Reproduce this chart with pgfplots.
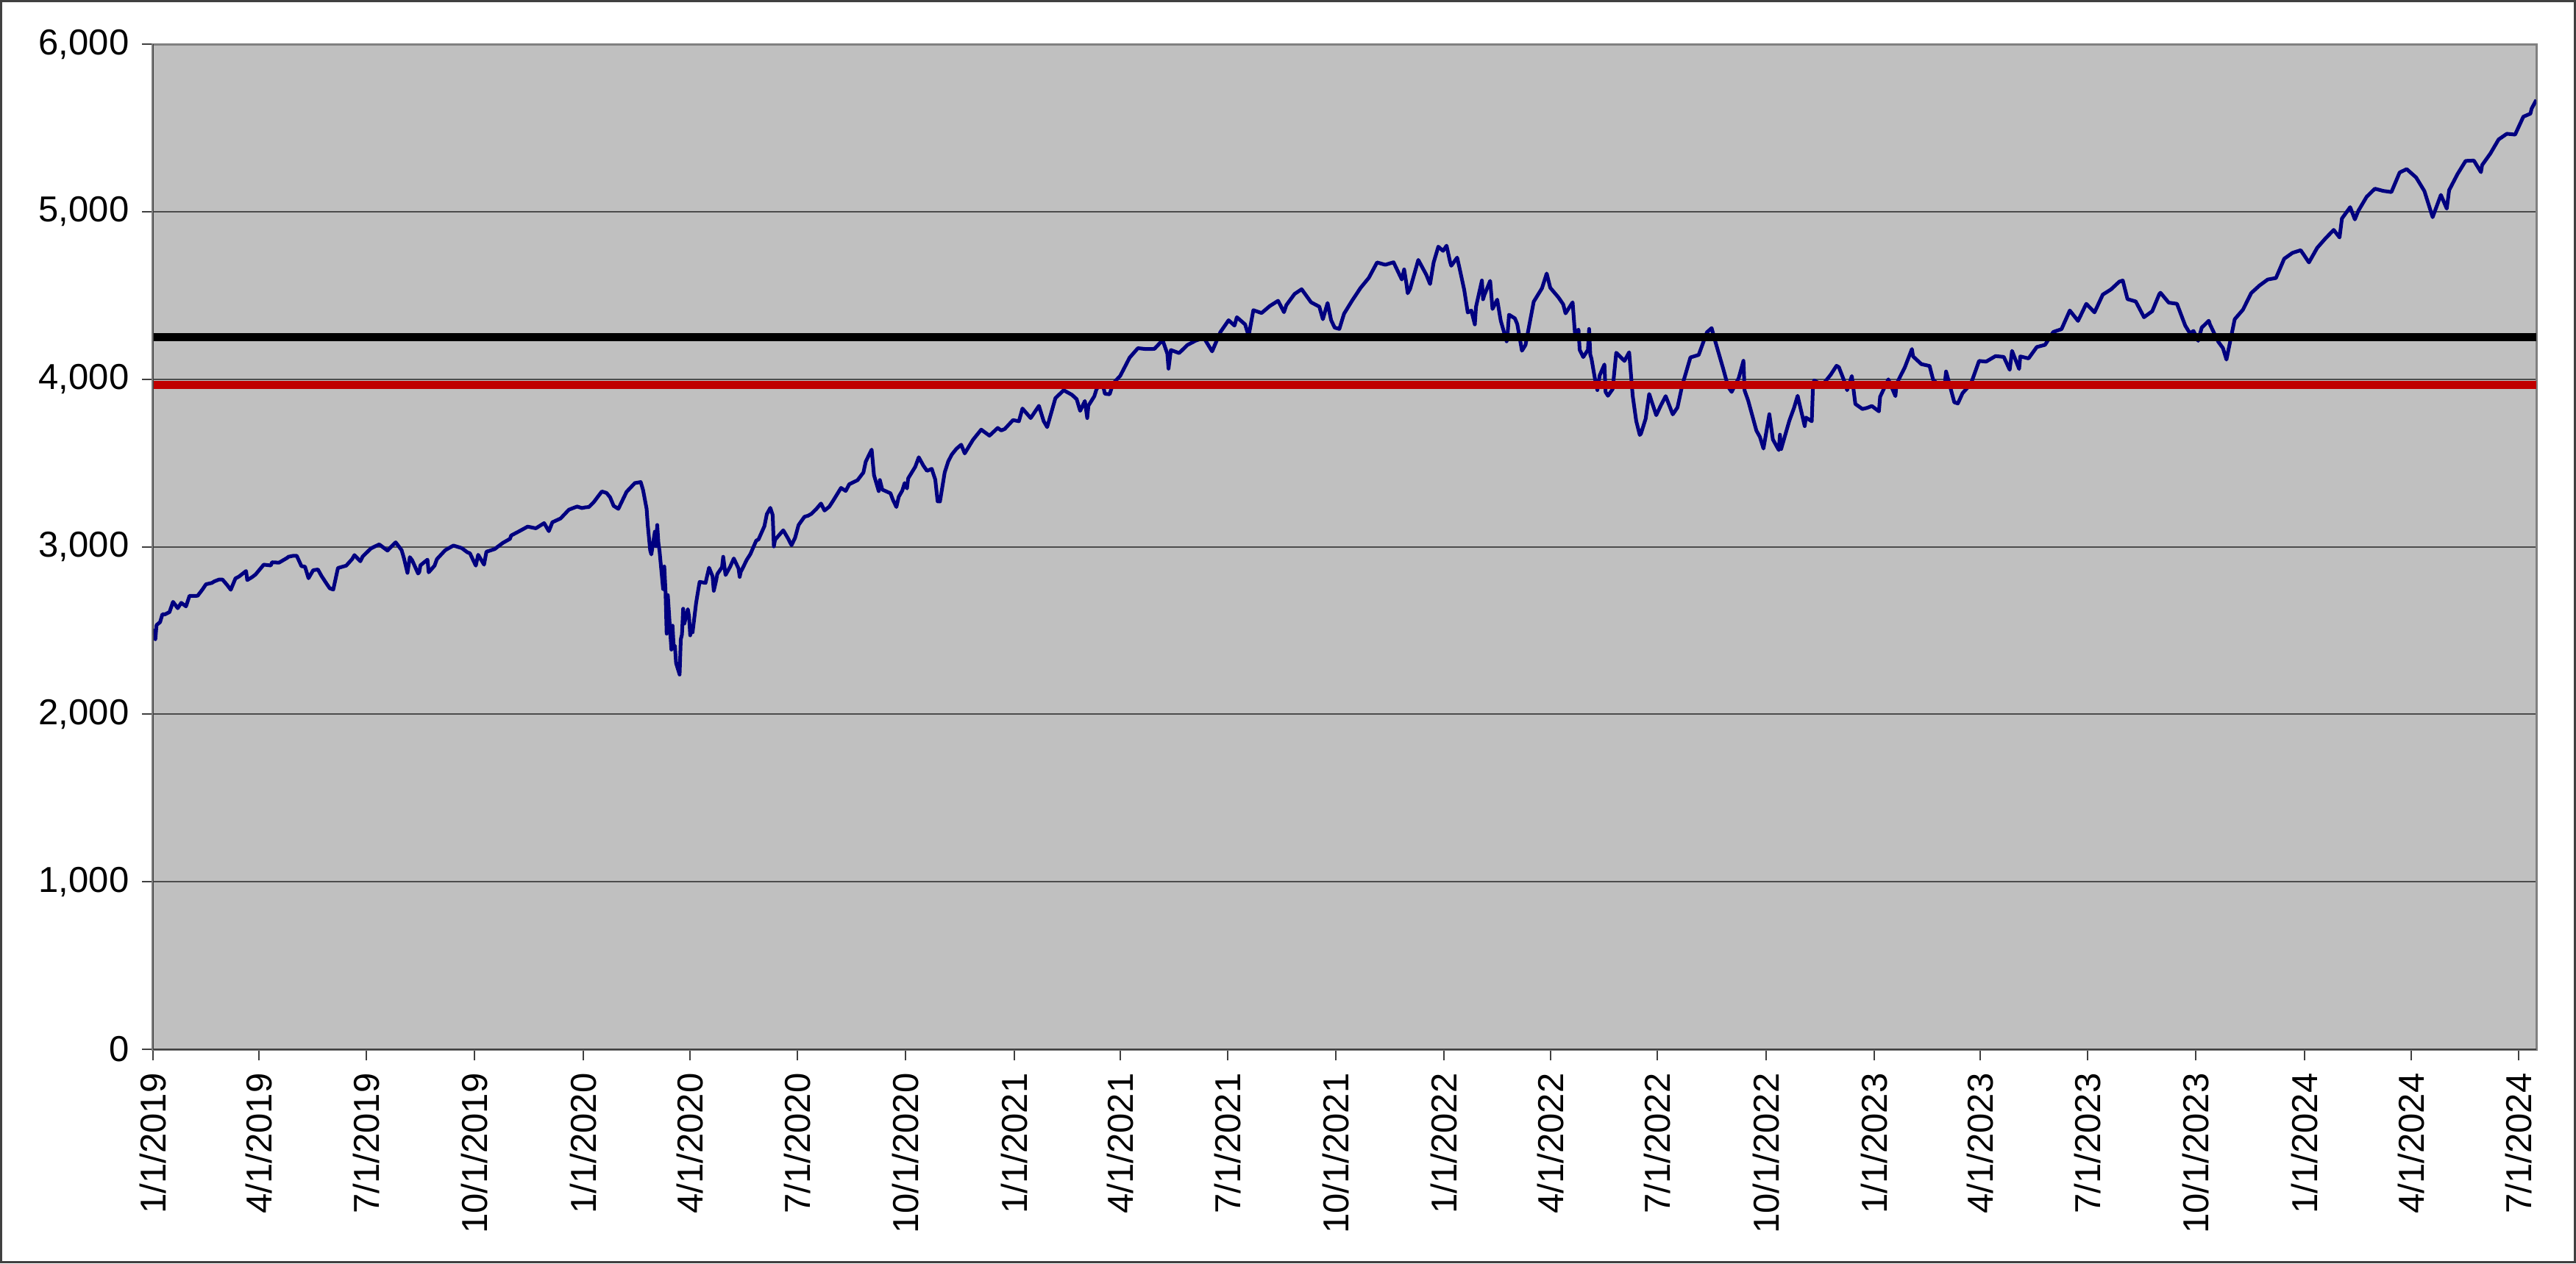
\documentclass[border=0pt]{standalone}
\usepackage{pgfplots}
\pgfplotsset{compat=1.18}
\usepackage{pgfplotstable}
\usepackage{fontspec}
\setmainfont{Liberation Sans}
\definecolor{plotbg}{RGB}{192,192,192}
\definecolor{frameg}{RGB}{128,128,128}
\definecolor{navyline}{RGB}{0,0,128}
\definecolor{redline}{RGB}{192,0,0}
\pgfplotstableread{
day val
1 2510
2 2448
3 2532
6 2550
8 2597
10 2596
14 2610
17 2671
21 2633
24 2665
28 2644
31 2707
37 2707
38 2708
42 2745
45 2776
50 2784
52 2793
56 2804
59 2804
63 2771
66 2743
70 2811
73 2822
79 2855
80 2801
84 2818
87 2834
94 2893
100 2888
101 2907
107 2905
114 2934
115 2940
119 2946
122 2946
126 2884
129 2881
132 2812
136 2860
140 2864
143 2826
147 2783
150 2752
153 2744
157 2873
164 2887
169 2926
171 2950
176 2913
178 2942
185 2990
192 3014
199 2977
205 3020
206 3026
211 2980
213 2932
216 2844
218 2938
220 2919
225 2840
226 2848
227 2889
233 2923
234 2847
239 2887
241 2926
248 2979
255 3007
262 2992
267 2966
269 2961
274 2887
276 2952
281 2893
283 2970
290 2986
297 3023
303 3047
304 3067
311 3093
318 3120
325 3110
332 3141
336 3093
339 3146
346 3169
353 3221
360 3240
364 3231
367 3235
370 3237
374 3265
381 3330
385 3321
388 3295
391 3244
395 3226
402 3328
409 3380
414 3386
416 3338
419 3226
420 3128
422 2979
423 2954
426 3090
427 3003
428 3130
429 3023
430 2972
433 2747
434 2882
435 2741
436 2481
437 2711
440 2386
441 2529
442 2398
443 2409
444 2305
447 2237
448 2447
449 2476
450 2630
451 2541
454 2627
455 2585
456 2471
457 2527
458 2489
461 2664
463 2750
464 2790
469 2784
472 2875
475 2823
476 2737
478 2798
479 2837
483 2878
484 2940
486 2831
490 2882
493 2930
497 2870
498 2820
499 2852
500 2864
504 2922
507 2955
512 3036
514 3044
519 3123
521 3194
524 3232
526 3190
527 3002
528 3041
531 3066
535 3098
539 3050
542 3009
545 3053
548 3130
553 3179
556 3185
559 3197
563 3225
567 3258
570 3216
574 3239
577 3271
584 3351
588 3333
591 3373
598 3397
603 3443
605 3508
610 3580
612 3427
616 3332
617 3398
619 3341
626 3319
628 3281
631 3237
633 3298
636 3335
638 3380
640 3348
641 3408
647 3477
650 3534
654 3483
657 3453
661 3465
664 3401
666 3271
668 3270
672 3443
675 3509
678 3550
682 3585
686 3609
689 3557
696 3638
703 3699
710 3663
717 3709
720 3694
723 3703
730 3756
735 3749
738 3825
745 3768
752 3841
756 3750
759 3714
766 3887
773 3934
780 3907
784 3881
787 3811
791 3870
793 3768
794 3842
799 3898
801 3943
806 3974
808 3913
812 3910
815 3975
821 4020
829 4129
836 4185
843 4180
850 4181
857 4233
861 4152
862 4063
864 4174
871 4156
878 4204
885 4230
892 4247
899 4166
906 4281
913 4352
918 4320
920 4370
927 4327
930 4258
934 4412
941 4395
948 4437
955 4468
960 4400
962 4442
969 4509
975 4537
983 4459
990 4433
993 4358
997 4455
1000 4353
1003 4308
1007 4300
1011 4391
1018 4471
1025 4545
1032 4605
1039 4697
1046 4683
1053 4698
1060 4595
1062 4655
1064 4567
1065 4513
1067 4538
1074 4712
1080 4634
1081 4620
1084 4568
1087 4696
1091 4791
1095 4766
1098 4797
1101 4700
1102 4677
1107 4726
1109 4663
1113 4533
1116 4398
1119 4410
1122 4327
1123 4432
1128 4589
1129 4477
1130 4501
1135 4587
1137 4419
1141 4475
1144 4349
1149 4226
1150 4288
1151 4385
1156 4363
1158 4329
1162 4170
1165 4204
1172 4463
1179 4543
1183 4631
1186 4546
1193 4488
1197 4447
1199 4393
1205 4459
1207 4272
1210 4296
1211 4175
1214 4132
1218 4175
1219 4300
1220 4147
1221 4123
1224 4001
1226 3935
1228 4023
1232 4088
1233 3923
1235 3901
1239 3941
1242 4158
1249 4109
1253 4161
1256 3901
1259 3750
1262 3667
1263 3675
1267 3764
1270 3912
1276 3785
1280 3845
1284 3899
1290 3790
1294 3831
1298 3962
1305 4130
1312 4145
1319 4280
1323 4305
1326 4228
1333 4058
1337 3955
1340 3924
1346 4007
1350 4110
1351 3932
1354 3873
1361 3693
1364 3655
1367 3586
1372 3791
1375 3640
1380 3577
1381 3669
1382 3583
1389 3753
1393 3830
1396 3901
1402 3720
1403 3771
1408 3749
1409 3956
1410 3993
1417 3965
1424 4026
1429 4080
1431 4072
1437 3963
1438 3934
1442 4019
1445 3852
1451 3822
1455 3829
1459 3840
1465 3808
1466 3895
1473 3999
1479 3899
1480 3973
1487 4071
1493 4180
1494 4136
1501 4090
1508 4079
1511 3997
1515 3970
1521 3981
1522 4046
1529 3862
1532 3855
1536 3917
1543 3971
1550 4109
1556 4105
1564 4138
1571 4133
1576 4056
1578 4169
1584 4061
1585 4136
1592 4124
1599 4192
1606 4205
1613 4282
1620 4299
1627 4410
1634 4348
1641 4450
1648 4399
1655 4505
1662 4536
1669 4582
1672 4589
1676 4478
1683 4464
1690 4370
1697 4406
1703 4508
1704 4516
1711 4457
1718 4450
1725 4320
1729 4274
1732 4288
1736 4229
1739 4308
1745 4349
1746 4327
1753 4224
1757 4186
1760 4117
1767 4358
1774 4415
1781 4514
1788 4559
1795 4595
1802 4604
1809 4719
1816 4754
1823 4770
1830 4697
1837 4784
1844 4840
1851 4891
1856 4846
1858 4959
1865 5027
1869 4954
1872 5006
1879 5089
1886 5137
1893 5124
1900 5117
1907 5234
1913 5254
1921 5204
1928 5123
1935 4967
1942 5100
1947 5018
1949 5128
1956 5223
1963 5303
1970 5305
1976 5236
1977 5278
1984 5347
1991 5431
1998 5465
2005 5460
2012 5567
2018 5585
2019 5615
2023 5667
}\spx
\begin{document}
\begin{tikzpicture}
\useasboundingbox (-41.6pt,-58.2pt) rectangle (658.8pt,285.4pt);
\fill[white] (-41.6pt,-58.2pt) rectangle (658.8pt,285.4pt);
\draw[black!75, line width=0.6pt] (-41.3pt,-57.9pt) rectangle (658.5pt,285.1pt);
\begin{axis}[
  at={(0,0)}, anchor=south west, scale only axis,
  width=648pt, height=273.4pt,
  xmin=0, xmax=2023, ymin=0, ymax=6000,
  axis background/.style={fill=plotbg},
  axis line style={draw=frameg, line width=0.6pt},
  ytick={0,1000,2000,3000,4000,5000,6000},
  yticklabels={0,{1,000},{2,000},{3,000},{4,000},{5,000},{6,000}},
  xtick={0,90,181,273,365,456,547,639,731,821,912,1004,1096,1186,1277,1369,1461,1551,1642,1734,1826,1917,2008},
  xticklabels={1/1/2019,4/1/2019,7/1/2019,10/1/2019,1/1/2020,4/1/2020,7/1/2020,10/1/2020,1/1/2021,4/1/2021,7/1/2021,10/1/2021,1/1/2022,4/1/2022,7/1/2022,10/1/2022,1/1/2023,4/1/2023,7/1/2023,10/1/2023,1/1/2024,4/1/2024,7/1/2024},
  x tick label style={rotate=90, anchor=east},
  tick align=outside, major tick length=3pt,
  tick style={draw=black!75, line width=0.4pt},
  tick pos=left,
  ymajorgrids, grid style={draw=black!70, line width=0.4pt},
  ticklabel style={font=\fontsize{9.8}{11}\selectfont},
]
\addplot[navyline, line width=1pt, line join=round] table[x=day,y=val]{\spx};
\addplot[redline, line width=2.2pt] coordinates {(0,3966) (2023,3966)};
\addplot[black, line width=2.2pt] coordinates {(0,4252) (2023,4252)};
\draw[black!75, line width=0.6pt] (rel axis cs:0,0) -- (rel axis cs:0,1);
\draw[black!75, line width=0.6pt] (rel axis cs:0,0) -- (rel axis cs:1,0);
\end{axis}
\end{tikzpicture}
\end{document}
